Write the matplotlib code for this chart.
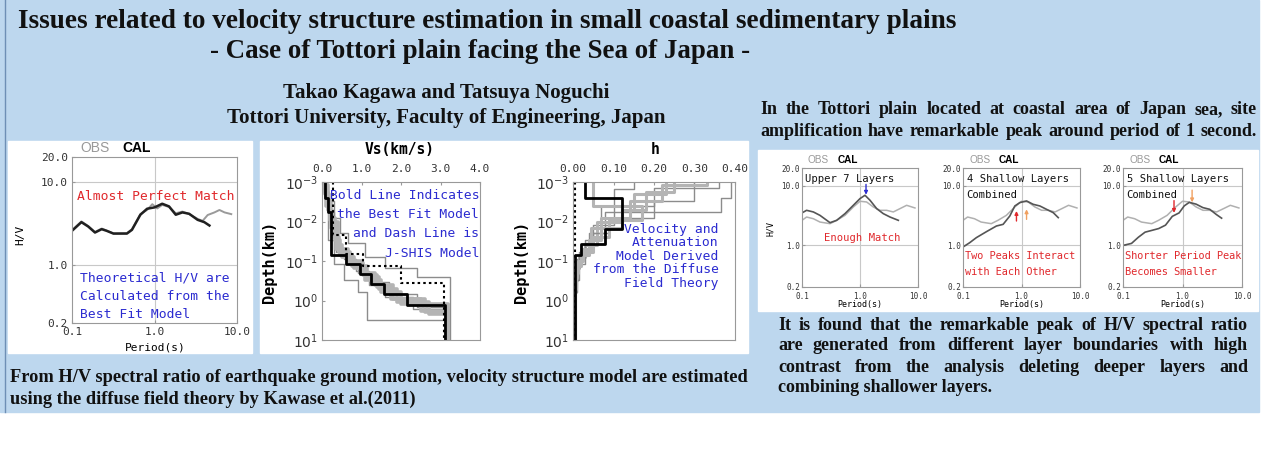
import matplotlib
matplotlib.use('Agg')
import matplotlib.pyplot as plt
import numpy as np

# --- H/V spectral ratio, best-fit model (left panel) ---
period_obs = [0.103, 0.13, 0.157, 0.19, 0.229, 0.263, 0.318, 0.463, 0.533, 0.674, 0.813, 0.94,
              1.08, 1.24, 1.5, 1.81, 2.18, 2.63, 3.33, 3.83, 4.41, 5.33, 6.13, 7.06, 8.52]
hv_obs = [2.7, 3.35, 2.95, 2.5, 2.75, 2.6, 2.4, 2.42, 2.7, 4.1, 4.6, 5.4,
          4.8, 5.3, 5.0, 4.2, 4.4, 4.1, 3.6, 3.4, 4.0, 4.3, 4.6, 4.3, 4.1]
period_cal = [0.103, 0.13, 0.157, 0.19, 0.229, 0.263, 0.318, 0.463, 0.533, 0.674, 0.813, 1.0,
              1.24, 1.5, 1.81, 2.18, 2.63, 3.33, 4.02, 4.63]
hv_cal = [2.65, 3.28, 2.91, 2.46, 2.7, 2.58, 2.39, 2.39, 2.65, 4.03, 4.76, 4.94,
          5.47, 5.08, 4.03, 4.3, 4.14, 3.5, 3.28, 2.99]

# --- H/V for reduced models (right panel) ---
period_obs_r = [0.1, 0.12, 0.157, 0.204, 0.304, 0.396, 0.551, 0.767, 1.0, 1.3, 1.7, 2.21,
                2.88, 3.75, 4.89, 6.37, 8.87]
hv_obs_r = [2.64, 3.0, 2.81, 2.47, 2.32, 2.64, 3.2, 4.42, 5.52, 5.37, 4.42, 3.89,
            3.89, 3.65, 4.15, 4.72, 4.26]
period_upper7 = [0.095, 0.12, 0.157, 0.204, 0.304, 0.396, 0.551, 0.767, 1.0, 1.22, 1.49,
                 1.94, 2.52, 3.29, 4.58]
hv_upper7 = [3.42, 3.89, 3.65, 3.2, 2.41, 2.64, 3.42, 4.72, 6.12, 6.96, 5.73, 4.15, 3.42, 3.0, 2.64]
period_comb4 = [0.1, 0.13, 0.169, 0.251, 0.373, 0.485, 0.631, 0.769, 0.936, 1.22, 1.58,
                2.06, 2.68, 3.49, 4.25]
hv_comb4 = [0.94, 1.11, 1.35, 1.7, 2.12, 2.26, 3.12, 4.6, 5.24, 5.59, 4.91, 4.6, 4.04, 3.55, 2.93]
period_comb5 = [0.1, 0.139, 0.181, 0.235, 0.306, 0.398, 0.518, 0.674, 0.877, 1.07, 1.3,
                1.69, 2.2, 2.87, 3.73, 4.54]
hv_comb5 = [1.0, 1.08, 1.37, 1.67, 1.79, 1.92, 2.19, 3.08, 3.52, 4.62, 5.29, 4.94, 4.32,
            4.04, 3.29, 2.87]

# --- layered models: layer boundaries (km), Vs (km/s), damping h ---
best_bounds = [0.001, 0.0026, 0.0056, 0.0156, 0.038, 0.071, 0.117, 0.215, 0.38, 0.7, 1.33, 10]
best_vs = [0.08, 0.15, 0.23, 0.23, 0.23, 0.61, 0.95, 1.24, 1.57, 2.16, 3.12]
best_h = [0.03, 0.12, 0.12, 0.078, 0.019, 0.006, 0.006, 0.006, 0.006, 0.006, 0.006]

jshis_bounds = [0.001, 0.022, 0.065, 0.133, 0.37, 10]
jshis_vs = [0.28, 0.61, 1.03, 2.0, 3.08]
jshis_h = [0.005, 0.005, 0.005, 0.005, 0.005]

model_bounds = [
    [0.001, 0.0014, 0.004, 0.012, 0.05, 0.09, 0.18, 0.4, 0.8, 1.6, 10],
    [0.001, 0.0026, 0.0057, 0.02, 0.06, 0.1, 0.2, 0.35, 0.7, 1.5, 10],
    [0.001, 0.002, 0.005, 0.01, 0.04, 0.08, 0.15, 0.3, 0.6, 1.2, 10],
    [0.001, 0.003, 0.008, 0.02, 0.035, 0.08, 0.15, 0.25, 10],
    [0.001, 0.0015, 0.004, 0.03, 0.12, 0.3, 0.6, 3.2, 10],
    [0.001, 0.0018, 0.005, 0.015, 0.05, 0.1, 0.2, 0.4, 0.9, 2.0, 10],
    [0.001, 0.0012, 0.003, 0.008, 0.03, 0.07, 0.13, 0.25, 0.5, 1.1, 2.2, 10],
    [0.001, 0.004, 0.009, 0.025, 0.06, 0.11, 0.22, 0.45, 0.9, 1.8, 10],
]
model_vs = [
    [0.06, 0.12, 0.2, 0.3, 0.55, 0.85, 1.2, 1.6, 2.3, 3.2],
    [0.1, 0.15, 0.3, 0.35, 0.6, 0.9, 1.3, 1.7, 2.4, 3.2],
    [0.08, 0.18, 0.25, 0.4, 0.5, 0.8, 1.1, 1.5, 2.0, 3.2],
    [0.12, 0.3, 0.45, 0.65, 1.1, 1.6, 2.4, 3.25],
    [0.05, 0.1, 0.15, 0.3, 0.55, 0.9, 1.15, 3.2],
    [0.07, 0.14, 0.22, 0.35, 0.65, 1.0, 1.35, 1.8, 2.6, 3.2],
    [0.09, 0.16, 0.24, 0.32, 0.45, 0.75, 1.15, 1.45, 1.9, 2.7, 3.15],
    [0.11, 0.19, 0.28, 0.42, 0.7, 1.05, 1.4, 1.75, 2.5, 3.2],
]
model_h = [
    [0.36, 0.2, 0.1, 0.05, 0.02, 0.01, 0.008, 0.006, 0.005, 0.004],
    [0.39, 0.365, 0.08, 0.04, 0.015, 0.01, 0.006, 0.005, 0.005, 0.004],
    [0.23, 0.15, 0.12, 0.06, 0.03, 0.015, 0.01, 0.008, 0.006, 0.004],
    [0.3, 0.2, 0.09, 0.05, 0.03, 0.015, 0.008, 0.005],
    [0.15, 0.1, 0.07, 0.03, 0.015, 0.01, 0.006, 0.004],
    [0.25, 0.18, 0.12, 0.045, 0.025, 0.012, 0.008, 0.006, 0.005, 0.004],
    [0.33, 0.22, 0.14, 0.07, 0.04, 0.02, 0.01, 0.008, 0.006, 0.005, 0.004],
    [0.05, 0.17, 0.09, 0.05, 0.02, 0.01, 0.007, 0.006, 0.005, 0.004],
]
# thin darker lines for the outer models, wide light lines for the rest
model_thin = [True, True, False, True, True, False, False, False]

W, H = 1261, 450
BG = '#bdd7ee'
SERIF = 'Liberation Serif'
MONO = 'DejaVu Sans Mono'
BLUE = '#2b2bd0'
RED = '#e0282c'

fig = plt.figure(figsize=(W / 100, H / 100), dpi=100)
fig.patch.set_facecolor('white')

# pixel-based canvas for backgrounds and texts
bg = fig.add_axes([0, 0, 1, 1])
bg.set_xlim(0, W)
bg.set_ylim(H, 0)
bg.axis('off')
bg.add_patch(plt.Rectangle((0, 0), 1259, 412, color=BG, zorder=0))
bg.plot([5, 5], [0, 412], color='#6e8fb5', lw=1)
for x0, y0, x1, y1 in [(8, 141, 252, 353), (260, 141, 748, 353), (758, 150, 1258, 311)]:
    bg.add_patch(plt.Rectangle((x0, y0), x1 - x0, y1 - y0, color='white', zorder=1))


def px_axes(x0, y0, x1, y1):
    return fig.add_axes([x0 / W, 1 - y1 / H, (x1 - x0) / W, (y1 - y0) / H])


def frame(ax, size, xpad=3, ypad=3):
    for s in ax.spines.values():
        s.set_color('#999999')
        s.set_linewidth(0.8)
    ax.tick_params(which='both', direction='in', length=2.5, color='#999999',
                   labelsize=size, labelcolor='#333333')
    ax.tick_params(axis='x', pad=xpad)
    ax.tick_params(axis='y', pad=ypad)
    for lab in ax.get_xticklabels() + ax.get_yticklabels():
        lab.set_fontfamily(MONO)


def steps(vals, bounds):
    x = np.repeat(vals, 2)
    y = np.column_stack([bounds[:-1], bounds[1:]]).ravel()
    return x, y


def hv_axes(ax, size, xpad=3, ypad=3):
    ax.set_xscale('log')
    ax.set_yscale('log')
    ax.set_xlim(0.1, 10)
    ax.set_ylim(0.2, 20)
    ax.minorticks_off()
    ax.set_xticks([0.1, 1, 10])
    ax.set_xticklabels(['0.1', '1.0', '10.0'])
    ax.set_yticks([0.2, 1, 10, 20])
    ax.set_yticklabels(['0.2', '1.0', '10.0', '20.0'])
    ax.axvline(1, color='#c8c8c8', lw=0.8, zorder=0)
    ax.axhline(1, color='#c8c8c8', lw=0.8, zorder=0)
    ax.axhline(10, color='#c8c8c8', lw=0.8, zorder=0)
    frame(ax, size, xpad, ypad)


# left: observed vs calculated H/V
a1 = px_axes(72, 157, 237, 323)
hv_axes(a1, 8)
a1.plot(period_obs, hv_obs, color='#9a9a9a', lw=1.4)
a1.plot(period_cal, hv_cal, color='#202020', lw=1.8)
a1.text(0.03, 0.76, 'Almost Perfect Match', transform=a1.transAxes, color=RED,
        family=MONO, fontsize=9.4, va='center')
for i, line in enumerate(['Theoretical H/V are', 'Calculated from the', 'Best Fit Model']):
    a1.text(0.05, 0.27 - i * 0.109, line, transform=a1.transAxes, color=BLUE,
            family=MONO, fontsize=9.4, va='center')
bg.text(80, 148, 'OBS', color='#999999', fontsize=10, family='Liberation Sans', va='center', zorder=3)
bg.text(122, 148, 'CAL', color='black', fontsize=10, family='Liberation Sans',
        fontweight='bold', va='center', zorder=3)
bg.text(20, 235, 'H/V', rotation=90, family=MONO, fontsize=8, va='center', ha='center', zorder=3)
bg.text(155, 347, 'Period(s)', family=MONO, fontsize=8, va='center', ha='center', zorder=3)


def depth_axes(ax):
    ax.set_yscale('log')
    ax.set_ylim(10, 1e-3)
    ax.minorticks_off()
    ax.set_yticks([1e-3, 1e-2, 1e-1, 1, 10])
    ax.set_yticklabels(['$10^{-3}$', '$10^{-2}$', '$10^{-1}$', '$10^{0}$', '$10^{1}$'])
    ax.xaxis.tick_top()
    frame(ax, 8, xpad=5.5)
    for lab in ax.get_yticklabels():
        lab.set_fontsize(10)


# velocity structure
a2 = px_axes(322, 182, 480, 340)
a2.set_xlim(0, 4)
a2.set_xticks([0, 1, 2, 3, 4])
a2.set_xticklabels(['0.0', '1.0', '2.0', '3.0', '4.0'])
depth_axes(a2)
for b, v, thin in zip(model_bounds, model_vs, model_thin):
    x, y = steps(v, b)
    if thin:
        a2.plot(x, y, color='#8c8c8c', lw=1.0)
    else:
        a2.plot(x, y, color='#b4b4b4', lw=2.6)
x, y = steps(jshis_vs, jshis_bounds)
a2.plot(x, y, color='black', lw=1.5, ls=(0, (1.2, 1.5)))
x, y = steps(best_vs, best_bounds)
a2.plot(x, y, color='black', lw=2.0)
for i, line in enumerate(['Bold Line Indicates', 'the Best Fit Model', 'and Dash Line is', 'J-SHIS Model']):
    a2.text(0.995, 0.915 - i * 0.122, line, transform=a2.transAxes, color=BLUE,
            family=MONO, fontsize=9.4, va='center', ha='right')
bg.text(400, 150, 'Vs(km/s)', family=MONO, fontsize=10.5, fontweight='bold',
        va='center', ha='center', zorder=3)
bg.text(270, 262, 'Depth(km)', rotation=90, family=MONO, fontsize=11, fontweight='bold',
        va='center', ha='center', zorder=3)

# damping structure
a3 = px_axes(573, 182, 735, 340)
a3.set_xlim(0, 0.4)
a3.set_xticks([0, 0.1, 0.2, 0.3, 0.4])
a3.set_xticklabels(['0.00', '0.10', '0.20', '0.30', '0.40'])
depth_axes(a3)
for b, hh, thin in zip(model_bounds, model_h, model_thin):
    x, y = steps(hh, b)
    if thin:
        a3.plot(x, y, color='#8c8c8c', lw=1.0)
    else:
        a3.plot(x, y, color='#b4b4b4', lw=2.2)
x, y = steps(jshis_h, jshis_bounds)
a3.plot(x, y, color='black', lw=1.5, ls=(0, (1.2, 1.5)))
x, y = steps(best_h, best_bounds)
a3.plot(x, y, color='black', lw=2.0)
for i, line in enumerate(['Velocity and', 'Attenuation', 'Model Derived', 'from the Diffuse', 'Field Theory']):
    a3.text(0.9, 0.7 - i * 0.085, line, transform=a3.transAxes, color=BLUE,
            family=MONO, fontsize=9.4, va='center', ha='right')
bg.text(655, 150, 'h', family=MONO, fontsize=10.5, fontweight='bold',
        va='center', ha='center', zorder=3)
bg.text(522, 262, 'Depth(km)', rotation=90, family=MONO, fontsize=11, fontweight='bold',
        va='center', ha='center', zorder=3)

# right: reduced models
right = [
    (802, 918, period_upper7, hv_upper7, ['Upper 7 Layers'], ['Enough Match']),
    (963, 1080, period_comb4, hv_comb4, ['4 Shallow Layers', 'Combined'],
     ['Two Peaks Interact', 'with Each Other']),
    (1123, 1242, period_comb5, hv_comb5, ['5 Shallow Layers', 'Combined'],
     ['Shorter Period Peak', 'Becomes Smaller']),
]
rax = []
for k, (x0, x1, per, hv, head, note) in enumerate(right):
    ax = px_axes(x0, 168, x1, 287)
    hv_axes(ax, 5.5, xpad=3.5, ypad=1.5)
    ax.plot(period_obs_r, hv_obs_r, color='#b0b0b0', lw=1.1)
    ax.plot(per, hv, color='#555555', lw=1.2)
    for i, line in enumerate(head):
        ax.text(0.03, 0.91 - i * 0.14, line, transform=ax.transAxes, family=MONO,
                fontsize=7.6, va='center', color='#111111')
    for i, line in enumerate(note):
        if k == 0:
            ax.text(0.52, 0.41, line, transform=ax.transAxes, family=MONO,
                    fontsize=7.6, va='center', ha='center', color=RED)
        else:
            ax.text(0.02, 0.26 - i * 0.135, line, transform=ax.transAxes, family=MONO,
                    fontsize=7.4, va='center', color=RED)
    bg.text(x0 + 6, 160, 'OBS', color='#999999', fontsize=7.2, family='Liberation Sans',
            va='center', zorder=3)
    bg.text(x0 + 36, 160, 'CAL', color='black', fontsize=7.2, family='Liberation Sans',
            fontweight='bold', va='center', zorder=3)
    bg.text((x0 + x1) / 2, 304.5, 'Period(s)', family=MONO, fontsize=6, va='center',
            ha='center', zorder=3)
    rax.append(ax)
bg.text(771, 228, 'H/V', rotation=90, family=MONO, fontsize=6, va='center', ha='center', zorder=3)


def arrow(ax, x, y0, y1, color):
    ax.annotate('', xy=(x, y1), xytext=(x, y0),
                arrowprops=dict(arrowstyle='-|>', color=color, lw=1.0, mutation_scale=5,
                                shrinkA=0, shrinkB=0))


arrow(rax[0], 1.27, 10.6, 7.1, '#2b2bd0')
arrow(rax[1], 0.82, 2.57, 3.79, RED)
arrow(rax[1], 1.22, 2.74, 4.04, '#f0a060')
arrow(rax[2], 0.72, 5.66, 3.52, RED)
arrow(rax[2], 1.45, 8.5, 5.29, '#f0a060')

# headings and paragraphs
TXT = dict(family=SERIF, fontweight='bold', color='#111111', va='center', zorder=3)
bg.text(18, 22, 'Issues related to velocity structure estimation in small coastal sedimentary plains',
        fontsize=19.6, **TXT)
bg.text(210, 52, '- Case of Tottori plain facing the Sea of Japan -', fontsize=19.4, **TXT)
bg.text(446, 93, 'Takao Kagawa and Tatsuya Noguchi', fontsize=15, ha='center', **TXT)
bg.text(446, 118, 'Tottori University, Faculty of Engineering, Japan', fontsize=15, ha='center', **TXT)

renderer = fig.canvas.get_renderer()


def justified(x0, x1, y, line, size):
    words = line.split()
    objs = [bg.text(0, y, w, fontsize=size, **TXT) for w in words]
    widths = [o.get_window_extent(renderer).width for o in objs]
    gap = (x1 - x0 - sum(widths)) / (len(words) - 1)
    x = x0
    for o, w in zip(objs, widths):
        o.set_x(x)
        x += w + gap


justified(760, 1257, 110, 'In the Tottori plain located at coastal area of Japan sea, site', 13)
justified(760, 1257, 131, 'amplification have remarkable peak around period of 1 second.', 13)

found = ['It is found that the remarkable peak of H/V spectral ratio',
         'are generated from different layer boundaries with high',
         'contrast from the analysis deleting deeper layers and']
for i, line in enumerate(found):
    justified(778, 1248, 325 + i * 21, line, 13)
bg.text(778, 388, 'combining shallower layers.', fontsize=13, **TXT)

bg.text(10, 378, 'From H/V spectral ratio of earthquake ground motion, velocity structure model are estimated',
        fontsize=13.25, **TXT)
bg.text(10, 399, 'using the diffuse field theory by Kawase et al.(2011)', fontsize=13.25, **TXT)

fig.savefig('out.png', dpi=100, facecolor='white')
